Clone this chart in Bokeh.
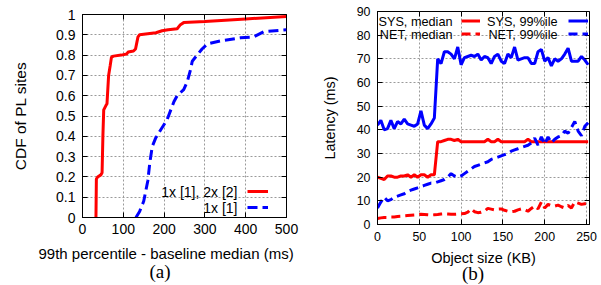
from bokeh.plotting import figure
from bokeh.layouts import row
from bokeh.models import (Range1d, FixedTicker, LinearAxis, Legend, LegendItem,
                          Label, Title, CustomJSTickFormatter)
from bokeh.core.properties import value
from bokeh.embed import file_html
from bokeh.resources import INLINE

# ---------------- data: panel (a) ----------------
a_red_ms = [33, 34, 37, 45, 48, 50, 52, 57, 60, 64, 68, 71, 76, 95, 108, 112, 125, 130,
            133, 136, 140, 160, 180, 195, 210, 232, 240, 248, 300, 400, 500]
a_red_cdf = [0, 0.19, 0.20, 0.21, 0.22, 0.40, 0.53, 0.55, 0.56, 0.70, 0.75, 0.79, 0.795,
             0.80, 0.805, 0.815, 0.82, 0.83, 0.86, 0.89, 0.90, 0.905, 0.91, 0.92, 0.925,
             0.93, 0.95, 0.96, 0.965, 0.978, 0.99]
a_blue_ms = [131, 140, 150, 160, 165, 171, 179, 191, 207, 224, 232, 248, 257, 265, 269,
             281, 293, 306, 338, 387, 420, 444, 500]
a_blue_cdf = [0, 0.03, 0.08, 0.18, 0.27, 0.35, 0.39, 0.43, 0.48, 0.57, 0.60, 0.63, 0.67,
              0.73, 0.77, 0.80, 0.83, 0.855, 0.87, 0.885, 0.89, 0.915, 0.925]
a_xticks = [0, 100, 200, 300, 400, 500]
a_yticks = [0, 0.1, 0.2, 0.3, 0.4, 0.5, 0.6, 0.7, 0.8, 0.9, 1.0]
a_labels = ["1x [1], 2x [2]", "1x [1]"]

# ---------------- data: panel (b) ----------------
b_kb = [0, 4, 8, 12, 16, 20, 24, 28, 32, 36, 40, 44, 48, 52, 56, 60, 64, 68, 72, 76,
        80, 84, 88, 92, 96, 100, 104, 108, 112, 116, 120, 124, 128, 132, 136, 140, 144,
        148, 152, 156, 160, 164, 168, 172, 176, 180, 184, 188, 192, 196, 200, 204, 208,
        212, 216, 220, 224, 228, 232, 236, 240, 244, 248, 252]
b_sys_med = [20, 19.5, 19, 20.5, 20.5, 20, 20, 20.5, 20.5, 21, 20, 21, 20, 21, 21, 20, 21, 21,
             35, 35, 35.5, 36, 36, 35.5, 36, 35, 35, 35, 35, 35, 35, 35, 35, 36, 35, 35, 36,
             35, 35, 35, 35, 35, 35, 35, 35, 36, 35, 35, 35, 35, 35, 35, 35, 35, 35, 35, 35,
             35, 35, 35, 35, 35, 35, 35]
b_sys_99 = [42, 44, 40, 40.5, 44, 40.5, 43.5, 42.5, 44.5, 42.5, 42, 41.5, 42.5, 48, 42, 40.5,
            42.5, 45, 70, 68, 73, 73, 72, 70, 75, 67.5, 70.5, 71, 71.5, 71, 72, 69.5, 71, 70.5,
            68, 71, 72, 69, 68, 72, 70.5, 75, 69.5, 70, 70.5, 70.5, 68, 68, 73, 74, 69, 70.5,
            67, 70, 69, 70, 72, 74.5, 69, 69, 69, 71, 69.5, 67.5]
b_net_med = [2.5, 2.8, 3, 3, 3.2, 3.2, 3.4, 3.5, 3.7, 3.8, 3.9, 4, 4.1, 4.3, 4.2, 4.1, 4, 4.1,
             4.2, 4.4, 4.5, 4.4, 4.3, 4.3, 4.4, 4.5, 4.6, 5.2, 6.6, 5.4, 5, 5.2, 5.6, 6.8, 6.5,
             6.2, 6.5, 6.6, 6, 5.6, 5.4, 5.6, 6.2, 6.6, 6.3, 5.6, 6.8, 7.8, 6.6, 9.5, 7, 8.5,
             8, 7.8, 8.2, 7.5, 7, 8, 7, 9.5, 9, 8.5, 8.8, 9]
b_net_99 = [7, 9.5, 11.5, 10, 10.5, 11.5, 12, 12.5, 13, 14, 14.5, 15, 15.5, 16, 16.5, 17, 17.5,
            17.5, 18, 18.5, 19, 20, 21.5, 20.5, 20, 20.5, 21.5, 22.5, 23.5, 24.5, 25, 25.5,
            26, 26.5, 27.5, 28, 28.5, 29, 29.5, 30, 31, 31.5, 32, 32.5, 33, 33.5, 34.5, 36.5,
            33.5, 37, 34, 37, 34.5, 36, 37, 37.5, 39.5, 38.5, 41, 43.5, 39.5, 37.5, 41.5, 43]
b_xticks = [0, 50, 100, 150, 200, 250]
b_yticks = [0, 10, 20, 30, 40, 50, 60, 70, 80, 90]
b_labels = ["SYS, median", "NET, median", "SYS, 99%ile", "NET, 99%ile"]

FONT = "Liberation Sans"
SERIF = "Liberation Serif"
RED = "#ff0000"
BLUE = "#0000ff"


def style(p, xticks, yticks, tick_fs, standoff):
    p.frame_align = False
    p.outline_line_color = "black"
    p.outline_line_width = 1
    p.background_fill_color = "white"
    p.border_fill_color = "white"
    ax_x = p.below[0]
    ax_y = p.left[0]
    ax_x.ticker = FixedTicker(ticks=xticks)
    ax_y.ticker = FixedTicker(ticks=yticks)
    for ax in (ax_x, ax_y):
        ax.major_tick_in = 5
        ax.major_tick_out = 0
        ax.minor_tick_line_color = None
        ax.axis_line_color = "black"
        ax.major_tick_line_color = "black"
        ax.major_label_text_font = FONT
        ax.major_label_text_font_size = tick_fs
        ax.major_label_text_color = "black"
        ax.major_label_standoff = standoff
        ax.axis_label_text_font = FONT
        ax.axis_label_text_font_style = "normal"
        ax.axis_label_text_color = "black"
    for g in list(p.xgrid) + list(p.ygrid):
        g.grid_line_color = "#9a9a9a"
        g.grid_line_dash = "2 2"
        g.grid_line_width = 1
    # mirrored inward ticks on top and right (no labels)
    for side, ticks in (("above", xticks), ("right", yticks)):
        m = LinearAxis(ticker=FixedTicker(ticks=ticks), major_label_text_font_size="0px",
                       major_label_text_color=None, major_label_standoff=0,
                       major_tick_in=5, major_tick_out=0, major_tick_line_color="black",
                       minor_tick_line_color=None, axis_line_color=None)
        p.add_layout(m, side)
    return ax_x, ax_y


def bare_legend(items, loc, gw, gh):
    return Legend(items=[LegendItem(label=value(" "), renderers=[r]) for r in items],
                  location=loc, orientation="vertical", glyph_width=gw, glyph_height=gh,
                  label_height=gh, label_width=0, label_standoff=0,
                  label_text_font_size="1px", padding=0, margin=0, spacing=0,
                  border_line_color=None, background_fill_alpha=0)


def caption(text, offset, fs, font, standoff):
    return Title(text=text, align="left", offset=offset, vertical_align="bottom",
                 standoff=standoff, text_font=font, text_font_size=fs,
                 text_font_style="normal", text_color="black")


# ---------------- panel (a) ----------------
p1 = figure(width=300, height=285, output_backend="svg", toolbar_location=None,
            x_range=Range1d(0, 500), y_range=Range1d(0, 1),
            min_border_left=82, min_border_right=14, min_border_top=14,
            min_border_bottom=68)
ax1x, ax1y = style(p1, a_xticks, a_yticks, "14px", 6)
ax1y.major_label_standoff = 7
ax1y.formatter = CustomJSTickFormatter(code="return tick.toFixed(1).replace(/\\.0$/, '');")
ax1y.axis_label = "CDF of PL sites"
ax1y.axis_label_text_font_size = "15.5px"
ax1y.axis_label_standoff = 24

ra1 = p1.line(a_red_ms, a_red_cdf, line_color=RED, line_width=3)
ra2 = p1.line(a_blue_ms, a_blue_cdf, line_color=BLUE, line_width=3, line_dash="10 5")
p1.add_layout(bare_legend([ra1, ra2], (165, 2), 21, 16))
for txt, yy in zip(a_labels, [26, 10]):
    p1.add_layout(Label(x=155, y=yy, x_units="screen", y_units="screen", text=txt,
                        text_align="right", text_baseline="middle", text_font=FONT,
                        text_font_size="14px", text_color="black"))
p1.add_layout(caption("99th percentile - baseline median (ms)", -44, "15px", FONT, 13),
              "below")
p1.add_layout(caption("(a)", 67, "19px", SERIF, -20), "below")

# ---------------- panel (b) ----------------
p2 = figure(width=301, height=285, output_backend="svg", toolbar_location=None,
            x_range=Range1d(0, 253.6), y_range=Range1d(0, 90),
            min_border_left=77, min_border_right=12, min_border_top=11,
            min_border_bottom=61)
ax2x, ax2y = style(p2, b_xticks, b_yticks, "12.4px", 7)
ax2y.major_label_standoff = 7
ax2y.axis_label = "Latency (ms)"
ax2y.axis_label_text_font_size = "14.4px"
ax2y.axis_label_standoff = 16
ax2x.axis_label = "Object size (KB)"
ax2x.axis_label_text_font_size = "14.5px"
ax2x.axis_label_standoff = 6

rb1 = p2.line(b_kb, b_sys_med, line_color=RED, line_width=3)
rb2 = p2.line(b_kb, b_net_med, line_color=RED, line_width=3, line_dash="9 5")
rb3 = p2.line(b_kb, b_sys_99, line_color=BLUE, line_width=3)
rb4 = p2.line(b_kb, b_net_99, line_color=BLUE, line_width=3, line_dash="9 5")
p2.add_layout(bare_legend([rb1, rb2], (84, 184), 19, 13))
p2.add_layout(bare_legend([rb3, rb4], (191, 184), 20, 13))
for txt, xx, yy in zip(b_labels, [75, 75, 180, 180], [203, 190, 203, 190]):
    p2.add_layout(Label(x=xx, y=yy, x_units="screen", y_units="screen", text=txt,
                        text_align="right", text_baseline="middle", text_font=FONT,
                        text_font_size="12.7px", text_color="black"))
p2.add_layout(caption("(b)", 84.5, "19px", SERIF, -13.8), "below")

layout = row(p1, p2)
open("out.html", "w").write(file_html(layout, INLINE))
